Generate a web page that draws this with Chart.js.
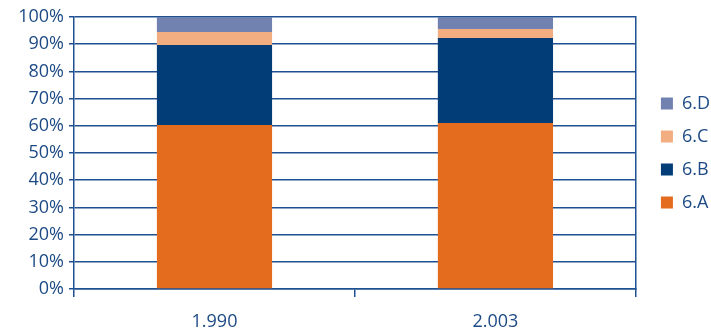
<!DOCTYPE html>
<html>
<head>
<meta charset="utf-8">
<script src="https://cdn.jsdelivr.net/npm/chart.js@4/dist/chart.umd.min.js"></script>
<style>
  html, body { margin: 0; padding: 0; background: #fff; }
  #wrap { width: 711px; height: 328px; }
</style>
</head>
<body>
<div id="wrap"><canvas id="chart" width="711" height="328"></canvas></div>
<script>
const years = ["1.990", "2.003"];
const valuesA = [60.3, 61.0];
const valuesB = [29.4, 31.3];
const valuesC = [4.8, 3.3];
const valuesD = [5.5, 4.4];
const yTicks = [0, 10, 20, 30, 40, 50, 60, 70, 80, 90, 100];

const AXIS_COLOR = "#1f5192";
const TEXT_COLOR = "#1d4a85";
const FONT = "'Open Sans', 'Noto Sans', sans-serif";
const FONT_SIZE = 18;

const bar = { barPercentage: 0.41, categoryPercentage: 1 };

new Chart(document.getElementById("chart"), {
  type: "bar",
  data: {
    labels: years,
    datasets: [
      { label: "6.A", data: valuesA, backgroundColor: "#e36c1f", ...bar },
      { label: "6.B", data: valuesB, backgroundColor: "#033d78", ...bar },
      { label: "6.C", data: valuesC, backgroundColor: "#f2ae80", ...bar },
      { label: "6.D", data: valuesD, backgroundColor: "#7282b0", ...bar },
    ],
  },
  options: {
    responsive: false,
    animation: false,
    layout: { padding: { top: 17, left: 0, right: -9, bottom: 0 } },
    plugins: {
      tooltip: { enabled: false },
      legend: {
        position: "right",
        fullSize: false,
        reverse: true,
        labels: {
          boxWidth: 12,
          boxHeight: 12,
          padding: 15,
          color: TEXT_COLOR,
          font: { family: FONT, size: FONT_SIZE },
        },
      },
    },
    scales: {
      x: {
        stacked: true,
        afterFit: (axis) => { axis.height = 39; },
        border: { color: AXIS_COLOR, width: 1.5 },
        grid: {
          offset: true,
          drawOnChartArea: false,
          color: AXIS_COLOR,
          lineWidth: 1.5,
          tickLength: 8,
        },
        ticks: { color: TEXT_COLOR, padding: 14, font: { family: FONT, size: FONT_SIZE } },
      },
      y: {
        stacked: true,
        min: 0,
        max: 100,
        afterFit: (axis) => { axis.width = 74; },
        afterBuildTicks: (axis) => { axis.ticks = yTicks.map((v) => ({ value: v })); },
        border: { color: AXIS_COLOR, width: 1.5 },
        grid: { color: AXIS_COLOR, lineWidth: 1.5, tickLength: 5 },
        ticks: {
          color: TEXT_COLOR,
          padding: 5,
          font: { family: FONT, size: FONT_SIZE },
          callback: (v) => v + "%",
        },
      },
      y2: {
        position: "right",
        min: 0,
        max: 100,
        afterFit: (axis) => { axis.width = 10; },
        border: { color: AXIS_COLOR, width: 1.5 },
        grid: { display: false },
        ticks: { display: false },
      },
    },
  },
});
</script>
</body>
</html>
